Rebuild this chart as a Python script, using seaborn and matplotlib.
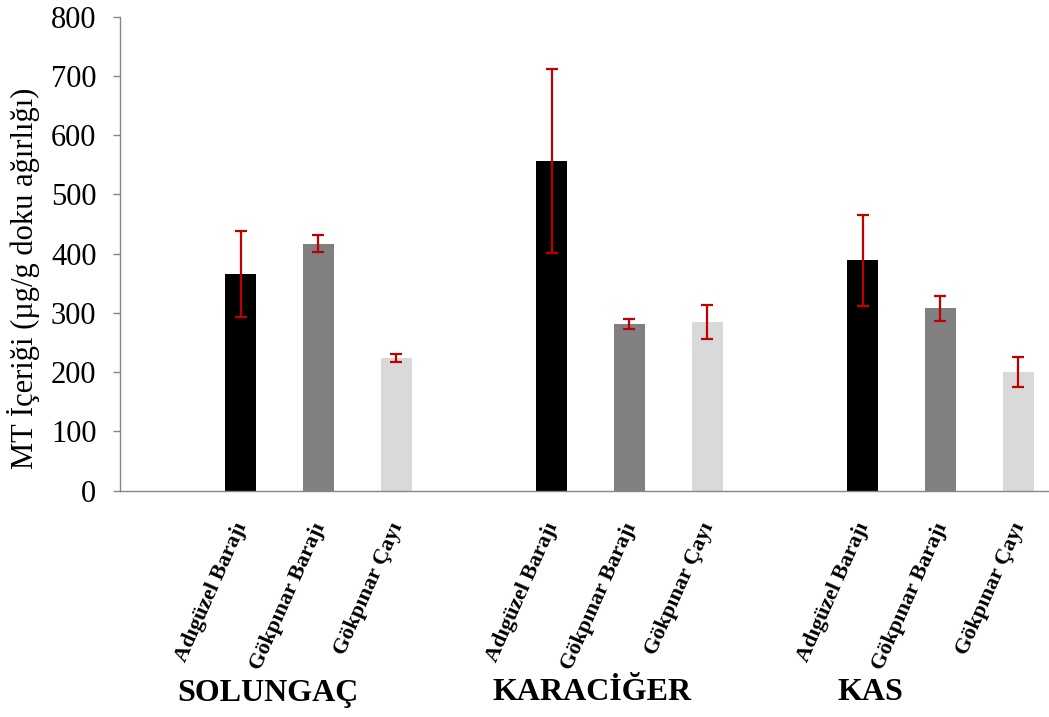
import matplotlib
matplotlib.use("Agg")
import matplotlib.pyplot as plt
from matplotlib.transforms import ScaledTranslation, blended_transform_factory
import seaborn as sns
import pandas as pd

# Tissue groups and sampling sites
organs = ["SOLUNGAÇ", "KARACİĞER", "KAS"]
sites = ["Adıgüzel Barajı", "Gökpınar Barajı", "Gökpınar Çayı"]

# Mean MT content (µg/g tissue weight) per tissue, and standard deviations
adiguzel_mean = [366, 556, 389]
adiguzel_sd = [73, 155, 77]
gokpinar_baraj_mean = [417, 281, 308]
gokpinar_baraj_sd = [14, 8, 21]
gokpinar_cay_mean = [224, 285, 200]
gokpinar_cay_sd = [6, 29, 25]

site_colors = ["#000000", "#808080", "#D9D9D9"]

means = [adiguzel_mean, gokpinar_baraj_mean, gokpinar_cay_mean]
sds = [adiguzel_sd, gokpinar_baraj_sd, gokpinar_cay_sd]

# Each tissue occupies one unit on the category axis; sites sit in slots of 0.25
slot = 0.25
first_slot = 0.388
rows = []
for gi, organ in enumerate(organs):
    for si, site in enumerate(sites):
        rows.append({
            "organ": organ,
            "site": site,
            "pos": gi + first_slot + si * slot,
            "mean": means[si][gi],
            "sd": sds[si][gi],
        })
df = pd.DataFrame(rows)

sns.set_theme(style="white")
plt.rcParams["font.family"] = ["Liberation Serif", "DejaVu Serif"]
plt.rcParams["text.color"] = "black"

fig = plt.figure(figsize=(10.49, 7.17), dpi=100)
ax = fig.add_axes([120 / 1049, 1 - 490.7 / 717, 928 / 1049, 474 / 717])

sns.barplot(data=df, x="pos", y="mean", hue="site", hue_order=sites,
            palette=site_colors, native_scale=True, width=0.4, dodge=False,
            errorbar=None, legend=False, saturation=1, linewidth=0, ax=ax)

ax.errorbar(df["pos"], df["mean"], yerr=df["sd"], fmt="none",
            ecolor="#C00000", elinewidth=1.6, capsize=4.3, capthick=1.6,
            zorder=5)

ax.set_xlim(0, 928 / 311)
ax.set_ylim(0, 800)
ax.set_yticks(range(0, 801, 100))

spine_color = "#868686"
for side in ["top", "right"]:
    ax.spines[side].set_visible(False)
for side in ["left", "bottom"]:
    ax.spines[side].set_color(spine_color)
    ax.spines[side].set_linewidth(1.0)

ax.tick_params(axis="y", which="both", left=True, length=5, width=1.0,
               color=spine_color, labelsize=22, pad=12, labelcolor="black")

ax.set_xticks(df["pos"])
ax.set_xticklabels(df["site"], rotation=66, ha="right", va="top",
                   fontweight="bold", fontsize=16, color="black")
ax.tick_params(axis="x", length=0, pad=21, labelcolor="black")
shift = ScaledTranslation(11 / 100, 0, fig.dpi_scale_trans)
for lab in ax.get_xticklabels():
    lab.set_transform(lab.get_transform() + shift)

ax.set_xlabel("")
ax.set_ylabel("MT İçeriği (µg/g doku ağırlığı)", fontsize=22, color="black")
ax.yaxis.set_label_coords(-0.086, 0.448)

# Tissue group labels beneath the site names
group_x = [0.476, 1.518, 2.412]
trans = blended_transform_factory(ax.transData, fig.transFigure)
for organ, gx in zip(organs, group_x):
    ax.text(gx, 1 - 693 / 717, organ, transform=trans, ha="center",
            va="center", fontsize=23, fontweight="bold", color="black")

fig.savefig("out.png", dpi=100)
